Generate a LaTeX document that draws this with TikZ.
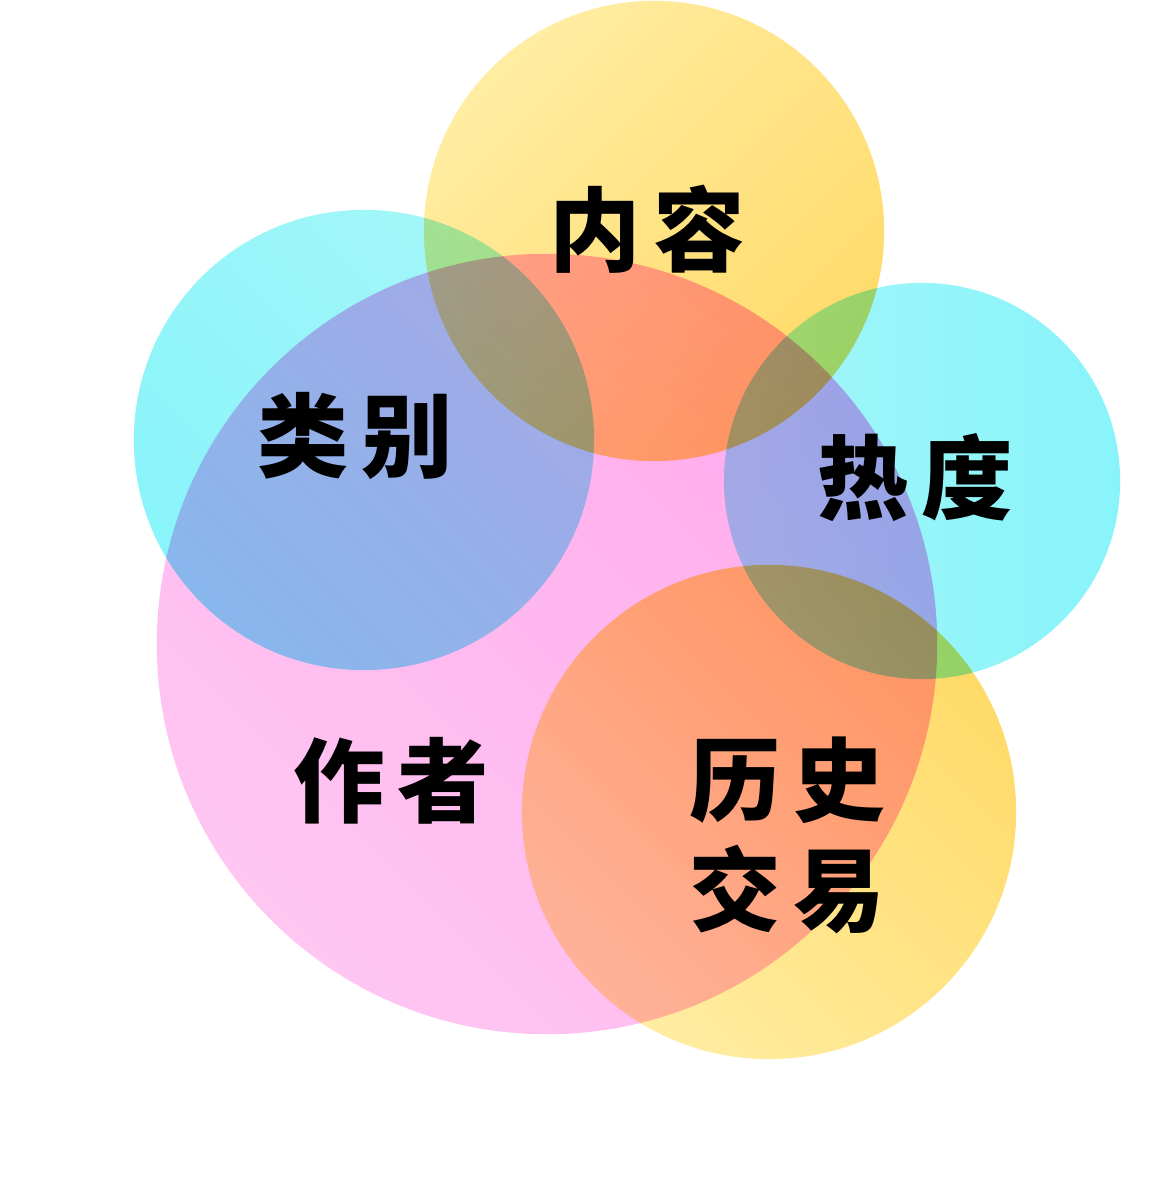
\documentclass[tikz,border=0pt]{standalone}
\usepackage{fontspec}
\newfontfamily\cjk{Noto Sans CJK SC}[BoldFont={Noto Sans CJK SC Black}]
\usetikzlibrary{positioning}
\definecolor{pinkD}{HTML}{FFAAEC}
\definecolor{pinkL}{HTML}{FFC6F2}
\definecolor{yelD}{HTML}{FFDA68}
\definecolor{yelL}{HTML}{FFEDA2}
\definecolor{cyaD}{HTML}{88F4FA}
\definecolor{cyaL}{HTML}{A4F6F8}
\tikzset{
  blob/.style={blend mode=multiply},
  lbl/.style={inner sep=0pt, align=center, font=\cjk\bfseries\fontsize{26}{31.3}\selectfont}
}
\newcommand{\gap}{\hspace{0.13cm}}
\begin{document}
\begin{tikzpicture}[x=0.01cm,y=-0.01cm]
\fill[white] (0,0) rectangle (1172,1192);
\useasboundingbox (0,0) rectangle (1172,1192);
\begin{scope}[blob]
  \shade[top color=pinkD,bottom color=pinkL,shading angle=-45] (547,644) circle[radius=3.90cm];
  \shade[top color=yelL,bottom color=yelD,shading angle=45] (654,231) circle[radius=2.30cm];
  \shade[top color=cyaL,bottom color=cyaD,shading angle=-45] (364,440) circle[radius=2.30cm];
  \shade[left color=cyaL,right color=cyaD] (922,481) circle[radius=1.98cm];
  \shade[top color=yelD,bottom color=yelL,shading angle=-45] (769,812) circle[radius=2.47cm];
\end{scope}
\node[lbl] (content) at (647,229) {内\gap 容};
\node[lbl] (category) at (355,436) {类\gap 别};
\node[lbl] (heat) at (915,478) {热\gap 度};
\node[lbl] (author) at (391,781) {作\gap 者};
\node[lbl] (history) at (787,835) {历\gap 史\\交\gap 易};
\end{tikzpicture}
\end{document}
